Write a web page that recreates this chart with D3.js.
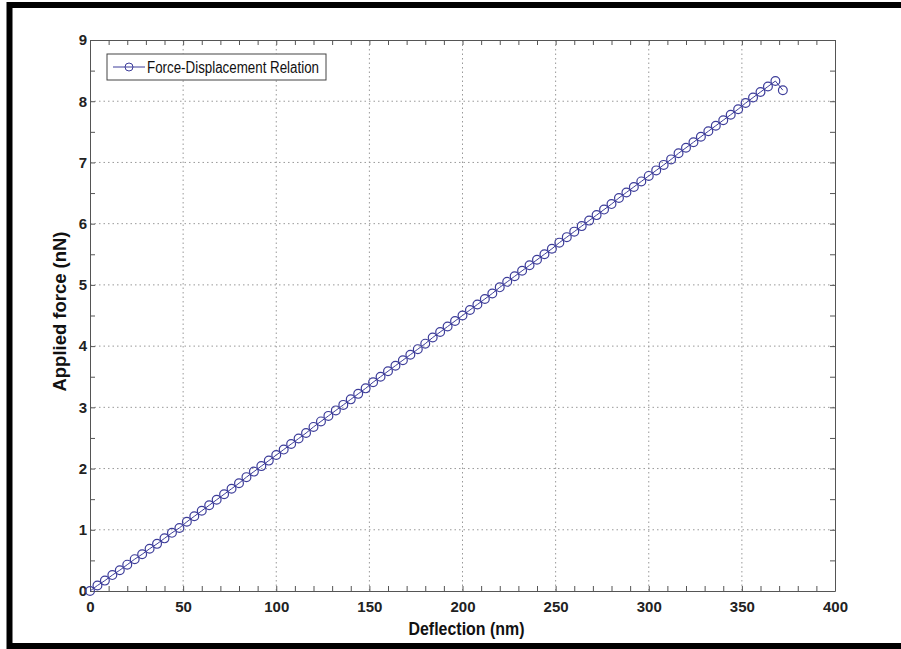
<!DOCTYPE html>
<html>
<head>
<meta charset="utf-8">
<script src="https://cdn.jsdelivr.net/npm/d3@7"></script>
<style>
  body { margin: 0; background: #fff; }
  svg text { font-family: 'Liberation Sans', Arial, sans-serif; }
</style>
</head>
<body>
<div id="chart"></div>
<script>
// deflection (nm), one marker every 4 nm
var deflection = [
  0, 4, 8, 12, 16, 20, 24, 28, 32, 36, 40, 44, 48, 52, 56, 60, 64, 68, 72, 76,
  80, 84, 88, 92, 96, 100, 104, 108, 112, 116, 120, 124, 128, 132, 136, 140, 144, 148, 152, 156,
  160, 164, 168, 172, 176, 180, 184, 188, 192, 196, 200, 204, 208, 212, 216, 220, 224, 228, 232, 236,
  240, 244, 248, 252, 256, 260, 264, 268, 272, 276, 280, 284, 288, 292, 296, 300, 304, 308, 312, 316,
  320, 324, 328, 332, 336, 340, 344, 348, 352, 356, 360, 364, 368, 372
]
// applied force (nN)
var force = [
  0, 0.09, 0.17, 0.26, 0.34, 0.43, 0.52, 0.60, 0.69, 0.77, 0.86, 0.95, 1.03, 1.13, 1.22, 1.31, 1.40, 1.49, 1.58, 1.67,
  1.76, 1.86, 1.95, 2.04, 2.13, 2.22, 2.31, 2.40, 2.49, 2.58, 2.68, 2.77, 2.86, 2.95, 3.04, 3.13, 3.22, 3.31, 3.41, 3.50,
  3.59, 3.68, 3.77, 3.86, 3.95, 4.04, 4.14, 4.23, 4.32, 4.41, 4.50, 4.59, 4.68, 4.77, 4.86, 4.96, 5.05, 5.14, 5.23, 5.32,
  5.41, 5.50, 5.59, 5.69, 5.78, 5.87, 5.96, 6.05, 6.14, 6.23, 6.32, 6.42, 6.51, 6.60, 6.69, 6.78, 6.87, 6.96, 7.05, 7.15,
  7.24, 7.33, 7.42, 7.51, 7.60, 7.69, 7.78, 7.87, 7.97, 8.06, 8.15, 8.24, 8.33, 8.18
]
var xTicks = [0, 50, 100, 150, 200, 250, 300, 350, 400]
var yTicks = [0, 1, 2, 3, 4, 5, 6, 7, 8, 9]
var seriesName = 'Force-Displacement Relation'

var W = 901
var H = 649
var margin = { top: 40, left: 90, right: 66, bottom: 58 }
var width = W - margin.left - margin.right
var height = H - margin.top - margin.bottom
var lineColor = '#3d3d9a'
var axisColor = '#555'

var root = d3
  .select('#chart')
  .append('svg')
  .attr('width', W)
  .attr('height', H)

// thick black outer frame (right edge runs off the picture)
root
  .append('rect')
  .attr('x', 9.5)
  .attr('y', 5)
  .attr('width', W + 20)
  .attr('height', 641)
  .attr('fill', 'none')
  .attr('stroke', '#000')
  .attr('stroke-width', 6)

var svg = root.append('g').attr('transform', `translate(${margin.left},${margin.top})`)

var x = d3.scaleLinear().domain([0, 400]).range([0, width])
var y = d3.scaleLinear().domain([0, 9]).range([height, 0])

// dotted grid
svg
  .selectAll('.vgrid')
  .data(xTicks.slice(1, -1))
  .enter()
  .append('line')
  .attr('x1', d => x(d))
  .attr('x2', d => x(d))
  .attr('y1', 0)
  .attr('y2', height)
  .attr('stroke', '#999')
  .attr('stroke-dasharray', '1.5,3')

svg
  .selectAll('.hgrid')
  .data(yTicks.slice(1, -1))
  .enter()
  .append('line')
  .attr('x1', 0)
  .attr('x2', width)
  .attr('y1', d => y(d))
  .attr('y2', d => y(d))
  .attr('stroke', '#999')
  .attr('stroke-dasharray', '1.5,3')

// axes, ticks pointing inwards on all four sides
var xMinor = d3.range(0, 401, 10)
var yMinor = d3.range(0, 9.01, 0.5)

function styleAxis(g) {
  g.select('.domain').attr('stroke', axisColor)
  g.selectAll('.tick line').attr('stroke', axisColor)
  g.selectAll('text')
    .attr('fill', '#222')
    .style('font-size', '15px')
    .style('font-weight', 'bold')
}

svg
  .append('g')
  .attr('transform', `translate(0,${height})`)
  .call(d3.axisBottom(x).tickValues(xMinor).tickSize(-5).tickFormat(d => (d % 50 === 0 ? d : '')).tickSizeOuter(0).tickPadding(10))
  .call(styleAxis)

svg
  .append('g')
  .call(d3.axisTop(x).tickValues(xMinor).tickSize(-5).tickFormat('').tickSizeOuter(0))
  .call(styleAxis)

svg
  .append('g')
  .call(d3.axisLeft(y).tickValues(yMinor).tickSize(-5).tickFormat(d => (d % 1 === 0 ? d : '')).tickSizeOuter(0).tickPadding(3))
  .call(styleAxis)

svg
  .append('g')
  .attr('transform', `translate(${width},0)`)
  .call(d3.axisRight(y).tickValues(yMinor).tickSize(-5).tickFormat('').tickSizeOuter(0))
  .call(styleAxis)

// data line + circle markers
var points = deflection.map((d, i) => ({ x: d, y: force[i] }))

svg
  .append('path')
  .datum(points)
  .attr('fill', 'none')
  .attr('stroke', lineColor)
  .attr('stroke-width', 1)
  .attr('d', d3.line().x(d => x(d.x)).y(d => y(d.y)))

svg
  .selectAll('.pt')
  .data(points)
  .enter()
  .append('circle')
  .attr('cx', d => x(d.x))
  .attr('cy', d => y(d.y))
  .attr('r', 4.4)
  .attr('fill', 'none')
  .attr('stroke', lineColor)
  .attr('stroke-width', 1.2)

// legend
var legend = svg.append('g').attr('transform', 'translate(17,14)')
legend
  .append('rect')
  .attr('width', 219)
  .attr('height', 26)
  .attr('fill', '#fff')
  .attr('stroke', '#444')
legend
  .append('line')
  .attr('x1', 6)
  .attr('x2', 38)
  .attr('y1', 13)
  .attr('y2', 13)
  .attr('stroke', lineColor)
legend
  .append('circle')
  .attr('cx', 22)
  .attr('cy', 13)
  .attr('r', 4)
  .attr('fill', 'none')
  .attr('stroke', lineColor)
legend
  .append('text')
  .attr('x', 40)
  .attr('y', 19)
  .style('font-size', '16px')
  .attr('textLength', 172)
  .attr('lengthAdjust', 'spacingAndGlyphs')
  .attr('fill', '#111')
  .text(seriesName)

// axis titles
svg
  .append('text')
  .attr('x', width / 2 + 4)
  .attr('y', height + 44)
  .attr('text-anchor', 'middle')
  .style('font-size', '19px')
  .style('font-weight', 'bold')
  .attr('textLength', 116)
  .attr('lengthAdjust', 'spacingAndGlyphs')
  .attr('fill', '#111')
  .text('Deflection (nm)')

svg
  .append('text')
  .attr('transform', `translate(-24,${height / 2 - 4}) rotate(-90)`)
  .attr('text-anchor', 'middle')
  .style('font-size', '19px')
  .style('font-weight', 'bold')
  .attr('textLength', 160)
  .attr('lengthAdjust', 'spacingAndGlyphs')
  .attr('fill', '#111')
  .text('Applied force (nN)')
</script>
</body>
</html>
